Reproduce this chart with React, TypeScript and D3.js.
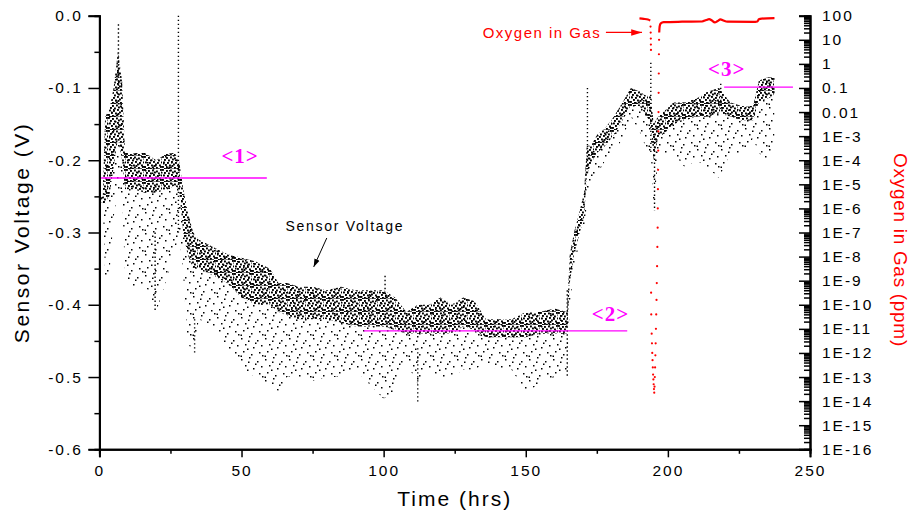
import * as React from 'react';
import * as d3 from 'd3';

// Sensor voltage: the dense core and the sparse tail below it
const vTime = [0.3, 1.2, 2, 3.5, 5, 6.5, 8, 9, 12, 16, 20, 24, 26.5, 28, 29.5, 31, 33, 35, 40, 45, 50, 55, 60, 63, 66, 70, 75, 80, 85, 90, 95, 100, 104, 108, 112, 116, 120, 124, 128, 132, 136, 140, 145, 150, 155, 160, 164.5, 165.5, 167, 169, 170.5, 171.5, 173, 175, 178, 181, 184, 187, 190, 192, 194, 195, 196.5, 198, 202, 206, 210, 214, 218, 222, 226, 230, 232, 235, 237.5];
const vCoreTop = [-0.253, -0.25, -0.14, -0.13, -0.1, -0.05, -0.09, -0.19, -0.19, -0.19, -0.2, -0.19, -0.19, -0.2, -0.24, -0.27, -0.3, -0.31, -0.32, -0.33, -0.335, -0.34, -0.35, -0.37, -0.37, -0.375, -0.375, -0.38, -0.375, -0.38, -0.38, -0.38, -0.39, -0.41, -0.4, -0.4, -0.39, -0.4, -0.39, -0.395, -0.42, -0.42, -0.42, -0.41, -0.41, -0.405, -0.41, -0.33, -0.3, -0.27, -0.245, -0.18, -0.18, -0.165, -0.155, -0.14, -0.12, -0.1, -0.105, -0.11, -0.11, -0.15, -0.14, -0.135, -0.12, -0.12, -0.115, -0.105, -0.1, -0.12, -0.125, -0.125, -0.09, -0.085, -0.085];
const vCoreBot = [-0.259, -0.258, -0.26, -0.25, -0.21, -0.17, -0.2, -0.24, -0.24, -0.245, -0.245, -0.24, -0.235, -0.24, -0.3, -0.33, -0.35, -0.35, -0.36, -0.37, -0.39, -0.4, -0.4, -0.41, -0.415, -0.42, -0.42, -0.42, -0.425, -0.43, -0.43, -0.43, -0.435, -0.44, -0.44, -0.44, -0.44, -0.44, -0.43, -0.435, -0.445, -0.445, -0.445, -0.445, -0.44, -0.44, -0.44, -0.37, -0.33, -0.3, -0.28, -0.22, -0.205, -0.19, -0.18, -0.165, -0.145, -0.125, -0.125, -0.135, -0.15, -0.2, -0.17, -0.165, -0.15, -0.145, -0.14, -0.14, -0.135, -0.14, -0.145, -0.145, -0.12, -0.115, -0.11];
const vLow = [-0.259, -0.258, -0.36, -0.36, -0.28, -0.24, -0.25, -0.36, -0.38, -0.37, -0.41, -0.36, -0.33, -0.3, -0.36, -0.45, -0.47, -0.42, -0.43, -0.46, -0.49, -0.5, -0.51, -0.52, -0.5, -0.5, -0.505, -0.5, -0.5, -0.49, -0.51, -0.53, -0.52, -0.48, -0.51, -0.49, -0.5, -0.5, -0.49, -0.49, -0.48, -0.49, -0.49, -0.52, -0.51, -0.5, -0.49, -0.4, -0.35, -0.31, -0.3, -0.26, -0.24, -0.22, -0.2, -0.19, -0.17, -0.14, -0.16, -0.18, -0.19, -0.27, -0.2, -0.19, -0.19, -0.21, -0.2, -0.21, -0.225, -0.19, -0.19, -0.17, -0.19, -0.2, -0.19];

// narrow streaks of points outside the bands: time, upper V, lower V
const streakTime = [6.7, 27.8, 19.6, 33.5, 171.7, 194.0, 195.3, 100.5, 112, 218.6, 164.6];
const streakTop = [-0.012, 0.0, -0.3, -0.42, -0.1, -0.065, -0.17, -0.36, -0.46, -0.094, -0.38];
const streakBot = [-0.1, -0.3, -0.41, -0.47, -0.22, -0.19, -0.27, -0.38, -0.535, -0.13, -0.5];

// oxygen in gas, log10(ppm)
const oxyBeforeT = [190, 191.5, 193, 193.8];
const oxyBeforeLog = [1.89, 1.87, 1.84, 1.8];
const oxyDipT = [193.9, 193.95, 194.0, 194.02, 194.05, 194.1, 194.15, 194.3, 194.4, 194.5, 194.6, 194.7, 194.8, 194.9, 195.0, 195.1, 195.2, 195.3, 195.4, 195.5, 195.6, 195.7, 195.8, 195.9, 196.0, 196.1, 196.2, 196.3, 196.4, 196.45, 196.5, 196.55, 196.6, 196.65, 196.7, 196.75, 196.8, 196.85, 196.9];
const oxyDipLog = [1.55, 1.3, 1.05, 0.8, 0.58, -9.5, -10.4, -11.2, -11.6, -12.0, -12.3, -12.6, -12.9, -13.1, -13.3, -13.5, -13.65, -13.4, -13.0, -12.6, -12.1, -11.6, -11.0, -10.4, -9.8, -9.1, -8.4, -7.6, -6.8, -6.0, -5.2, -4.4, -3.6, -2.8, -2.0, -1.2, -0.4, 0.4, 1.0];
const oxyAfterT = [196.95, 197.1, 197.5, 198.5, 205, 212, 213.5, 214.5, 215.5, 216.5, 217.5, 218.5, 219.5, 221, 230, 231.5, 232, 233, 237.5];
const oxyAfterLog = [1.3, 1.55, 1.68, 1.73, 1.75, 1.76, 1.82, 1.86, 1.8, 1.72, 1.78, 1.85, 1.8, 1.75, 1.74, 1.76, 1.85, 1.88, 1.9];

// reference levels
const levelNames = ['<1>', '<2>', '<3>'];
const levelV = [-0.2246, -0.436, -0.0987];
const levelFrom = [0.6, 93, 219.8];
const levelTo = [58.9, 185.7, 244];
const levelLabelT = [49.5, 179.8, 220.7];
const levelLabelV = [-0.204, -0.423, -0.0835];

const timeTicks = [0, 50, 100, 150, 200, 250];
const timeMinor = [25, 75, 125, 175, 225];
const voltTicks = [0, -0.1, -0.2, -0.3, -0.4, -0.5, -0.6];
const voltMinor = [-0.05, -0.15, -0.25, -0.35, -0.45, -0.55];
const oxyTickExp = [2, 1, 0, -1, -2, -3, -4, -5, -6, -7, -8, -9, -10, -11, -12, -13, -14, -15, -16];
const oxyTickLabels = ['100', '10', '1', '0.1', '0.01', '1E-3', '1E-4', '1E-5', '1E-6', '1E-7', '1E-8', '1E-9', '1E-10', '1E-11', '1E-12', '1E-13', '1E-14', '1E-15', '1E-16'];

const W = 911, H = 515;
const margin = { top: 15.7, right: 101, bottom: 65.7, left: 99.4 };
const FONT = '"Liberation Sans", Arial, sans-serif';

const x = d3.scaleLinear().domain([0, 250]).range([margin.left, W - margin.right]);
const yV = d3.scaleLinear().domain([-0.6, 0]).range([H - margin.bottom, margin.top]);
const yO = d3.scaleLog().domain([1e-16, 100]).range([H - margin.bottom, margin.top]);

// texture tiles for the scatter bands
const denseDots = [[0, 0], [4, 1], [8, 0.5], [12, 1.5], [16, 0], [2, 3], [6, 3.5], [10, 2.5], [14, 3.5], [1, 5.5], [5, 6], [9, 5], [13, 6], [17, 5.5], [3, 8], [7, 8.5], [11, 7.5], [15, 8.5], [0, 10], [4, 11], [8, 10.5], [12, 11], [16, 10], [2, 12], [10, 12.5], [6, 11.8], [14, 12.3], [17.5, 2.3], [9.5, 9]];
const sparseDots = [[1, 2], [9, 0], [17, 4], [5, 8], [13, 11], [21, 9], [3, 15], [11, 18], [19, 16], [7, 12.5], [15, 6.5], [22, 19], [0.5, 19.5], [8, 4.5]];

export default function App() {
    const gBottom = React.useRef<SVGGElement>(null);
    const gLeft = React.useRef<SVGGElement>(null);
    const gRight = React.useRef<SVGGElement>(null);

    React.useEffect(() => {
        const style = (g: any) => {
            g.attr('font-family', FONT).attr('font-size', 15.5);
            g.select('.domain').attr('stroke-width', 2);
            g.selectAll('.tick line').attr('stroke-width', 1.5);
            g.selectAll('text').attr('fill', '#000').style('letter-spacing', '2px');
        };

        const b = d3.select(gBottom.current!);
        b.selectAll('*').remove();
        b.append('g').call(d3.axisBottom(x).tickValues(timeMinor).tickSize(4.5).tickFormat(() => '')).call(style);
        b.append('g').call(d3.axisBottom(x).tickValues(timeTicks).tickSize(8).tickPadding(8).tickFormat((d: any) => String(d))).call(style);

        const l = d3.select(gLeft.current!);
        l.selectAll('*').remove();
        l.append('g').call(d3.axisLeft(yV).tickValues(voltMinor).tickSize(5).tickFormat(() => '')).call(style);
        l.append('g').call(d3.axisLeft(yV).tickValues(voltTicks).tickSize(11).tickPadding(5.5).tickFormat((d: any) => (+d).toFixed(1))).call(style);

        const r = d3.select(gRight.current!);
        r.selectAll('*').remove();
        const minor: number[] = [];
        for (let e = -16; e < 2; e++) for (let m = 2; m <= 9; m++) minor.push(m * Math.pow(10, e));
        r.append('g').call(d3.axisRight(yO).tickValues(minor).tickSize(-6).tickFormat(() => '')).call(style);
        const major = oxyTickExp.map(e => Math.pow(10, e));
        r.append('g').call(d3.axisRight(yO).tickValues(major).tickSize(-11).tickPadding(12)
            .tickFormat((d: any, i: number) => oxyTickLabels[i])).call(style);
    }, []);

    const idx = vTime.map((_, i) => i);
    const coreArea = d3.area<number>().x(i => x(vTime[i])).y0(i => yV(vCoreBot[i])).y1(i => yV(vCoreTop[i]))(idx);
    const tailArea = d3.area<number>().x(i => x(vTime[i])).y0(i => yV(vLow[i])).y1(i => yV(vCoreTop[i]))(idx);

    const oxyLine = (ts: number[], ls: number[]) =>
        d3.line<number>().x(i => x(ts[i])).y(i => yO(Math.pow(10, ls[i]))).curve(d3.curveMonotoneX)(ts.map((_, i) => i));

    const p = (t: number, v: number) => [x(t), yV(v)];
    const [svT, svV] = p(65.5, -0.298);
    const [a1x, a1y] = p(80.0, -0.3076);
    const [a2x, a2y] = p(75.4, -0.3476);
    const [oxT, oxV] = p(176.6, -0.0309);
    const [b1x, b1y] = p(178.2, -0.0232);
    const [b2x, b2y] = p(190.9, -0.0232);

    return (
        <svg width={W} height={H} style={{ position: 'absolute', left: 0, top: 0, background: '#fff' }}
            fontFamily={FONT}>
            <defs>
                <pattern id="dense" width={18} height={13} patternUnits="userSpaceOnUse">
                    {denseDots.map((d, i) => <rect key={i} x={d[0]} y={d[1]} width={1.9} height={1.9} fill="#000" />)}
                </pattern>
                <pattern id="sparse" width={24} height={21} patternUnits="userSpaceOnUse">
                    {sparseDots.map((d, i) => <rect key={i} x={d[0]} y={d[1]} width={1.5} height={1.5} fill="#000" />)}
                </pattern>
                <marker id="arrowBlack" viewBox="0 0 10 10" refX={10} refY={5} markerWidth={8} markerHeight={8} orient="auto">
                    <path d="M0,1.5 L10,5 L0,8.5 Z" fill="#000" />
                </marker>
                <marker id="arrowRed" viewBox="0 0 10 10" refX={10} refY={5} markerWidth={9} markerHeight={9} orient="auto">
                    <path d="M0,2 L10,5 L0,8 Z" fill="#ff0000" />
                </marker>
            </defs>

            {/* sensor voltage scatter */}
            <path d={tailArea!} fill="url(#sparse)" />
            <path d={coreArea!} fill="url(#dense)" />
            {streakTime.map((t, i) => (
                <line key={i} x1={x(t)} x2={x(t)} y1={yV(streakTop[i])} y2={yV(streakBot[i])}
                    stroke="#000" strokeWidth={1.4} strokeDasharray="1.4 2.6" />
            ))}

            {/* oxygen */}
            <path d={oxyLine(oxyBeforeT, oxyBeforeLog)!} fill="none" stroke="#ff0000" strokeWidth={2.2} />
            <path d={oxyLine(oxyAfterT, oxyAfterLog)!} fill="none" stroke="#ff0000" strokeWidth={2.2} />
            {oxyDipT.map((t, i) => (
                <circle key={i} cx={x(t)} cy={yO(Math.pow(10, oxyDipLog[i]))} r={1.1} fill="#ff0000" />
            ))}

            {/* reference levels */}
            {levelNames.map((n, i) => (
                <g key={n}>
                    <line x1={x(levelFrom[i])} x2={x(levelTo[i])} y1={yV(levelV[i])} y2={yV(levelV[i])}
                        stroke="#ff00ff" strokeWidth={1.3} />
                    <text x={x(levelLabelT[i])} y={yV(levelLabelV[i])} textAnchor="middle" fill="#ff00ff"
                        fontFamily='"Liberation Serif", "Times New Roman", serif' fontWeight="bold" fontSize={21}
                        style={{ letterSpacing: '1px' }}>{n}</text>
                </g>
            ))}

            {/* annotations */}
            <text x={svT} y={svV} fontSize={14} fill="#000" style={{ letterSpacing: '1.7px' }}>Sensor Voltage</text>
            <line x1={a1x} y1={a1y} x2={a2x} y2={a2y} stroke="#000" strokeWidth={1} markerEnd="url(#arrowBlack)" />
            <text x={oxT} y={oxV} fontSize={15} fill="#ff0000" textAnchor="end" style={{ letterSpacing: '1.5px' }}>Oxygen in Gas</text>
            <line x1={b1x} y1={b1y} x2={b2x} y2={b2y} stroke="#ff0000" strokeWidth={1.2} markerEnd="url(#arrowRed)" />

            {/* axes */}
            <g ref={gBottom} transform={`translate(0,${H - margin.bottom})`} />
            <g ref={gLeft} transform={`translate(${margin.left},0)`} />
            <g ref={gRight} transform={`translate(${W - margin.right},0)`} />

            <text x={(margin.left + W - margin.right) / 2} y={506} textAnchor="middle" fontSize={21}
                style={{ letterSpacing: '2px' }}>Time (hrs)</text>
            <text transform={`translate(29,${(margin.top + H - margin.bottom) / 2}) rotate(-90)`} textAnchor="middle"
                fontSize={21} style={{ letterSpacing: '2.5px' }}>Sensor Voltage (V)</text>
            <text transform={`translate(894,250) rotate(90)`} textAnchor="middle" fontSize={19} fill="#ff0000"
                style={{ letterSpacing: '0.7px' }}>Oxygen in Gas (ppm)</text>
        </svg>
    );
}
